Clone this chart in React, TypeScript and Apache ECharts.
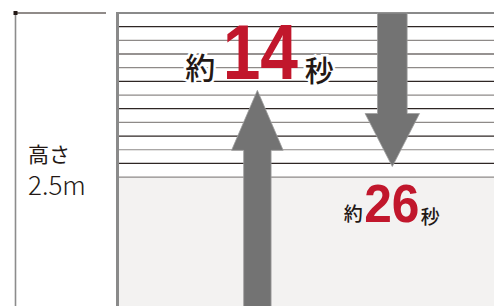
import React, { useEffect, useRef } from "react";
import * as echarts from "echarts";

// ---- data ----
const heightLabel = ["高さ", "2.5m"];
const tankHeight = 2.5; // m
const waterLevel = 1.1; // m (start of shaded region)
const stripeCount = 12;
const timeValues = [14, 26]; // seconds
const timePrefix = "約";
const timeSuffix = "秒";
const directions = ["up", "down"];
const arrowTips = [1.84, 1.19]; // m, height reached by arrow tip

// ---- layout (not data) ----
const arrowX = [37.4, 73.1]; // position on hidden 0..100 x axis
const RED = "#c1172c";
const INK = "#231815";
const ARROW = "#737373";
const CJK = "'Noto Sans CJK JP', sans-serif";
const LATIN = "'Liberation Sans', Arial, sans-serif";

export default function App() {
  const ref = useRef<HTMLDivElement>(null);
  useEffect(() => {
    const chart = echarts.init(ref.current!, null, { renderer: "svg" });

    const tankItem = (params: any, api: any) => {
      const cs = params.coordSys;
      const left = cs.x;
      const right = cs.x + cs.width;
      const top = api.coord([0, tankHeight])[1];
      const bottom = api.coord([0, 0])[1];
      const wl = api.coord([0, waterLevel])[1];
      const children: any[] = [];
      children.push({
        type: "rect",
        shape: { x: left, y: wl, width: right - left, height: bottom - wl + 2 },
        style: { fill: "#f3f2f1" },
      });
      for (let i = 1; i <= stripeCount; i++) {
        const v = tankHeight - ((tankHeight - waterLevel) * i) / stripeCount;
        const y = api.coord([0, v])[1];
        children.push({
          type: "line",
          shape: { x1: left, y1: y, x2: right, y2: y },
          style: { stroke: i % 2 ? "#2e2624" : "#8e8a88", lineWidth: 1.2 },
        });
      }
      children.push({
        type: "rect",
        shape: { x: left, y: top - 1, width: 3, height: bottom - top + 3 },
        style: { fill: "#8a8a8a" },
      });
      children.push({
        type: "line",
        shape: { x1: left, y1: top, x2: right, y2: top },
        style: { stroke: "#8a8a8a", lineWidth: 2 },
      });
      // height dimension on the left
      const dx = 15.5;
      children.push({
        type: "line",
        shape: { x1: dx, y1: top, x2: dx, y2: bottom + 2 },
        style: { stroke: "#8c8c8c", lineWidth: 1.6 },
      });
      children.push({
        type: "line",
        shape: { x1: dx, y1: top, x2: 106, y2: top },
        style: { stroke: INK, lineWidth: 1.2 },
      });
      children.push({
        type: "rect",
        shape: { x: dx - 2, y: top - 2, width: 4, height: 4 },
        style: { fill: INK },
      });
      const mid = (top + bottom) / 2;
      children.push({
        type: "text",
        x: 28,
        y: mid - 7,
        style: {
          text: heightLabel[0],
          fill: INK,
          font: `normal 21px ${CJK}`,
          align: "left",
          verticalAlign: "middle",
        },
      });
      children.push({
        type: "text",
        x: 28,
        y: mid + 24,
        style: {
          text: heightLabel[1],
          fill: INK,
          font: `300 26px ${CJK}`,
          align: "left",
          verticalAlign: "middle",
        },
      });
      return { type: "group", children };
    };

    const arrowItem = (params: any, api: any) => {
      const idx = api.value(3);
      const tip = api.coord([api.value(0), api.value(1)]);
      const cx = tip[0];
      const ty = tip[1];
      const top = api.coord([0, tankHeight])[1];
      const bottom = api.coord([0, 0])[1];
      const t = api.value(2);
      const children: any[] = [];
      let pts: number[][];
      if (directions[idx] === "up") {
        const sw = 13.7, hw = 25.8, hh = 60;
        pts = [
          [cx - sw, bottom + 4], [cx - sw, ty + hh], [cx - hw, ty + hh], [cx, ty],
          [cx + hw, ty + hh], [cx + sw, ty + hh], [cx + sw, bottom + 4],
        ];
        children.push({ type: "polygon", shape: { points: pts }, style: { fill: ARROW, stroke: "#9d9d9d", lineWidth: 0.8 } });
        children.push({
          type: "text", x: cx - 57, y: ty - 24,
          style: { text: timePrefix, fill: INK, font: `500 30px ${CJK}`, align: "center", verticalAlign: "middle", stroke: "#fff", lineWidth: 5 },
        });
        children.push({
          type: "text", x: cx + 3, y: ty - 38, scaleX: 0.88,
          style: { text: String(t), fill: RED, font: `bold 77px ${LATIN}`, align: "center", verticalAlign: "middle" },
        });
        children.push({
          type: "text", x: cx + 62, y: ty - 21,
          style: { text: timeSuffix, fill: INK, font: `500 29px ${CJK}`, align: "center", verticalAlign: "middle", stroke: "#fff", lineWidth: 5 },
        });
      } else {
        const sw = 14.8, hw = 27.2, hh = 53;
        pts = [
          [cx - sw, top], [cx - sw, ty - hh], [cx - hw, ty - hh], [cx, ty],
          [cx + hw, ty - hh], [cx + sw, ty - hh], [cx + sw, top],
        ];
        children.push({ type: "polygon", shape: { points: pts }, style: { fill: ARROW, stroke: "#9d9d9d", lineWidth: 0.8 } });
        children.push({
          type: "text", x: cx - 39, y: ty + 45.5,
          style: { text: timePrefix, fill: INK, font: `500 19px ${CJK}`, align: "center", verticalAlign: "middle" },
        });
        children.push({
          type: "text", x: cx - 0.5, y: ty + 37, scaleX: 0.92,
          style: { text: String(t), fill: RED, font: `bold 54px ${LATIN}`, align: "center", verticalAlign: "middle" },
        });
        children.push({
          type: "text", x: cx + 38, y: ty + 49,
          style: { text: timeSuffix, fill: INK, font: `500 19px ${CJK}`, align: "center", verticalAlign: "middle" },
        });
      }
      return { type: "group", children };
    };

    chart.setOption({
      animation: false,
      grid: { left: 116, right: 0, top: 13, bottom: 0 },
      xAxis: { type: "value", min: 0, max: 100, show: false },
      yAxis: { type: "value", min: 0, max: tankHeight, show: false },
      series: [
        { type: "custom", clip: false, silent: true, data: [[0, 0]], renderItem: tankItem, z: 1 },
        {
          type: "custom",
          clip: false,
          silent: true,
          z: 2,
          data: timeValues.map((t, i) => [arrowX[i], arrowTips[i], t, i]),
          renderItem: arrowItem,
        },
      ],
    });
    return () => chart.dispose();
  }, []);
  return (
    <div
      ref={ref}
      style={{ position: "fixed", left: 0, top: 0, width: 494, height: 306, background: "#fff" }}
    />
  );
}
